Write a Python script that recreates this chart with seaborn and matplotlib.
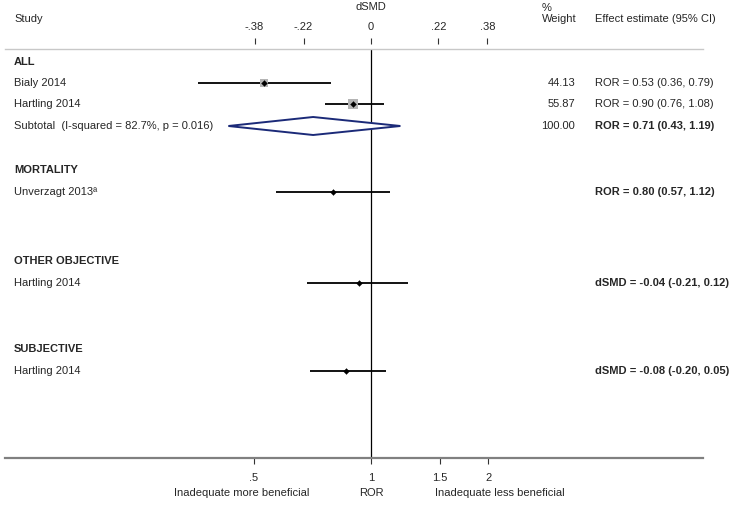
import numpy as np
import pandas as pd
import matplotlib
matplotlib.use("Agg")
import matplotlib.pyplot as plt
import matplotlib.transforms as mtransforms
import seaborn as sns

sns.set_style("white")
plt.rcParams['font.family'] = ['Liberation Sans', 'DejaVu Sans']
plt.rcParams['font.size'] = 8

# study level data
studies = ["Bialy 2014", "Hartling 2014", "Unverzagt 2013\u00aa", "Hartling 2014", "Hartling 2014"]
measure = ["ROR", "ROR", "ROR", "dSMD", "dSMD"]
est = [0.53, 0.90, 0.80, -0.04, -0.08]
lo = [0.36, 0.76, 0.57, -0.21, -0.20]
hi = [0.79, 1.08, 1.12, 0.12, 0.05]
weight = [44.13, 55.87, np.nan, np.nan, np.nan]
bold_est = [False, False, True, True, True]

# subtotal for ALL
sub_est, sub_lo, sub_hi = 0.71, 0.43, 1.19
sub_i2, sub_p = 82.7, 0.016

groups = ["ALL", "MORTALITY", "OTHER OBJECTIVE", "SUBJECTIVE"]
ror_ticks = [0.5, 1, 1.5, 2]
ror_ticklabels = [".5", "1", "1.5", "2"]
dsmd_ticks = [-0.38, -0.22, 0, 0.22, 0.38]
dsmd_ticklabels = ["-.38", "-.22", "0", ".22", ".38"]

# layout (pixel rows)
group_y = [62, 170, 261, 349]
study_y = [83, 104, 192, 283, 371]
sub_y = 126

K = np.sqrt(3) / np.pi  # dSMD = ln(OR) * sqrt(3)/pi


def to_ror(v, m):
    return v if m == "ROR" else np.exp(v / K)


df = pd.DataFrame({
    "study": studies, "measure": measure, "est": est, "lo": lo, "hi": hi,
    "weight": weight, "y": study_y,
})
df["x"] = [to_ror(v, m) for v, m in zip(df.est, df.measure)]
df["xlo"] = [to_ror(v, m) for v, m in zip(df.lo, df.measure)]
df["xhi"] = [to_ror(v, m) for v, m in zip(df.hi, df.measure)]

W, H = 731, 507
fig = plt.figure(figsize=(W / 100, H / 100), dpi=100)
ax = fig.add_axes([5 / W, 1 - 458 / H, (703 - 5) / W, (458 - 49) / H])
ax.set_xscale("log")
ax.set_xlim(np.exp((5 - 371) / 169), np.exp((703 - 371) / 169))
ax.set_ylim(458, 49)

for s in ["left", "right"]:
    ax.spines[s].set_visible(False)
ax.spines["top"].set_color("#c8c8c8")
ax.spines["top"].set_linewidth(1)
ax.spines["bottom"].set_color("#808080")
ax.spines["bottom"].set_linewidth(1.6)

ax.axvline(1, color="black", lw=0.9, zorder=1)

# confidence intervals
ax.hlines(df.y, df.xlo, df.xhi, color="black", lw=1.3, zorder=2)

# weight boxes
wdf = df.dropna(subset=["weight"])
sns.scatterplot(data=wdf, x="x", y="y", size="weight", sizes=(36, 49), marker="s",
                color="#b4b4b4", edgecolor="none", legend=False, ax=ax, zorder=3)
sns.scatterplot(data=df, x="x", y="y", marker="D", s=9, color="black",
                edgecolor="black", legend=False, ax=ax, zorder=4)

# subtotal diamond
ax.fill([sub_lo, sub_est, sub_hi, sub_est], [sub_y, sub_y - 9, sub_y, sub_y + 9],
        facecolor="white", edgecolor="#1b2a78", lw=1.4, zorder=3)

# bottom axis
ax.set_xticks(ror_ticks)
ax.set_xticklabels(ror_ticklabels)
ax.xaxis.set_minor_locator(matplotlib.ticker.NullLocator())
ax.tick_params(axis="x", which="major", bottom=True, direction="out", length=4,
               width=0.8, color="#333333", pad=7, labelsize=8)
ax.set_xlabel("")
ax.set_ylabel("")
ax.set_yticks([])

# top dSMD scale (drawn on the ROR axis)
dsmd_x = [np.exp(d / K) for d in dsmd_ticks]
ax.vlines(dsmd_x, 38, 44, color="#333333", lw=0.8, clip_on=False)
for x, lab in zip(dsmd_x, dsmd_ticklabels):
    ax.text(x, 27, lab, ha="center", va="center", clip_on=False)
ax.text(1, 7, "dSMD", ha="center", va="center", clip_on=False)

# text columns
tr = mtransforms.blended_transform_factory(fig.transFigure, ax.transData)


def px(x):
    return x / W


def py(y):
    return 1 - y / H


fig.text(px(14), py(19), "Study", va="center", ha="left")
fig.text(px(542), py(8), "%", va="center", ha="left")
fig.text(px(542), py(19), "Weight", va="center", ha="left")
fig.text(px(595), py(19), "Effect estimate (95% CI)", va="center", ha="left")

for g, y in zip(groups, group_y):
    ax.text(px(14), y, g, transform=tr, va="center", ha="left", fontweight="bold")

for i, r in df.iterrows():
    ax.text(px(14), r.y, r.study, transform=tr, va="center", ha="left")
    lab = f"{r.measure} = {r.est:.2f} ({r.lo:.2f}, {r.hi:.2f})"
    ax.text(px(595), r.y, lab, transform=tr, va="center", ha="left",
            fontweight="bold" if bold_est[i] else "normal")
    if not np.isnan(r.weight):
        ax.text(px(575), r.y, f"{r.weight:.2f}", transform=tr, va="center", ha="right")

ax.text(px(14), sub_y, f"Subtotal  (I-squared = {sub_i2:.1f}%, p = {sub_p:.3f})",
        transform=tr, va="center", ha="left")
ax.text(px(575), sub_y, "100.00", transform=tr, va="center", ha="right")
ax.text(px(595), sub_y, f"ROR = {sub_est:.2f} ({sub_lo:.2f}, {sub_hi:.2f})",
        transform=tr, va="center", ha="left", fontweight="bold")

fig.text(px(242), py(493), "Inadequate more beneficial", va="center", ha="center")
fig.text(px(371), py(493), "ROR", va="center", ha="center")
fig.text(px(500), py(493), "Inadequate less beneficial", va="center", ha="center")

fig.savefig("out.png", dpi=100)
